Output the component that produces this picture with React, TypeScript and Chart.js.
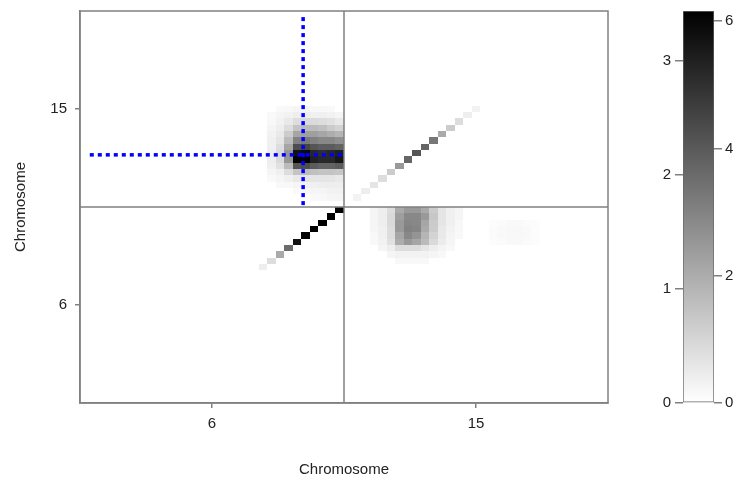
import React, { useEffect, useRef } from 'react';
import { Chart, registerables } from 'chart.js';
Chart.register(...registerables);

// ---------------- data ----------------
const chromosomes = ['6', '15'];
const binsPerChromosome = 31;
const axisTitle = 'Chromosome';

const colorbarLeftTicks = [0, 1, 2, 3];
const colorbarRightTicks = [0, 2, 4, 6];
const colorbarLeftMax = 3.44;
const colorbarRightMax = 6.16;

// chr6 x chr6 diagonal, bins 21..30
const chr6DiagonalStartBin = 21;
const chr6DiagonalValues = [0.23, 0.46, 1.15, 2.0, 3.2, 3.44, 3.44, 3.44, 3.44, 3.44];

// chr15 x chr15 diagonal, bins 1..15
const chr15DiagonalStartBin = 1;
const chr15DiagonalValues = [0.17, 0.23, 0.35, 0.46, 0.69, 1.38, 2.06, 2.29, 2.06, 1.83, 1.15, 0.69, 0.46, 0.23, 0.17];

// x = chr6 bins 22..30, y = chr15 bins 15 (top row) down to 1
const chr6Chr15XStartBin = 22;
const chr6Chr15YTopBin = 15;
const chr6Chr15Values = [
  [0, 0.08, 0.1, 0.13, 0.13, 0.1, 0.1, 0.08, 0],
  [0.08, 0.13, 0.17, 0.23, 0.23, 0.2, 0.2, 0.17, 0.13],
  [0.1, 0.17, 0.3, 0.46, 0.5, 0.5, 0.46, 0.4, 0.3],
  [0.13, 0.23, 0.46, 0.8, 0.92, 0.92, 0.85, 0.7, 0.6],
  [0.17, 0.3, 0.69, 1.2, 1.3, 1.3, 1.2, 1.1, 1.0],
  [0.2, 0.35, 0.92, 1.7, 1.8, 1.7, 1.6, 1.6, 1.5],
  [0.2, 0.46, 1.2, 2.4, 2.5, 2.3, 2.2, 2.2, 2.1],
  [0.23, 0.5, 1.4, 3.2, 3.3, 2.9, 2.8, 2.9, 3.0],
  [0.23, 0.5, 1.4, 3.4, 3.44, 3.0, 2.9, 2.9, 3.1],
  [0.2, 0.4, 0.9, 2.3, 2.4, 2.2, 2.1, 2.1, 2.2],
  [0.13, 0.2, 0.46, 0.8, 0.9, 0.85, 0.8, 0.8, 0.75],
  [0.08, 0.13, 0.2, 0.3, 0.35, 0.35, 0.35, 0.35, 0.3],
  [0, 0.08, 0.1, 0.13, 0.17, 0.2, 0.23, 0.23, 0.23],
  [0, 0, 0, 0.08, 0.1, 0.13, 0.13, 0.17, 0.17],
  [0, 0, 0, 0, 0, 0.08, 0.1, 0.13, 0.13],
];

// x = chr15 bins 3..13, y = chr6 bins 30 (top row) down to 22
const chr15Chr6XStartBin = 3;
const chr15Chr6YTopBin = 30;
const chr15Chr6Values = [
  [0.13, 0.23, 0.46, 1.15, 1.38, 1.38, 1.15, 0.69, 0.35, 0.2, 0.13],
  [0.13, 0.23, 0.5, 1.3, 1.6, 1.6, 1.38, 0.75, 0.35, 0.2, 0.13],
  [0.13, 0.23, 0.5, 1.38, 1.65, 1.6, 1.2, 0.7, 0.35, 0.2, 0.1],
  [0.13, 0.2, 0.46, 1.38, 1.7, 1.65, 1.15, 0.69, 0.3, 0.17, 0.1],
  [0.1, 0.2, 0.46, 1.2, 1.6, 1.45, 1.0, 0.6, 0.3, 0.15, 0.1],
  [0.1, 0.17, 0.4, 1.1, 1.38, 1.2, 0.92, 0.5, 0.25, 0.13, 0],
  [0, 0.13, 0.23, 0.46, 0.46, 0.46, 0.35, 0.23, 0.15, 0.1, 0],
  [0, 0, 0.13, 0.17, 0.17, 0.17, 0.17, 0.13, 0.1, 0, 0],
  [0, 0, 0, 0.1, 0.1, 0.1, 0.1, 0, 0, 0, 0],
];

// faint patch: x = chr15 bins 17..22, y = chr6 bins 28 down to 25
const chr15Chr6FaintXStartBin = 17;
const chr15Chr6FaintYTopBin = 28;
const chr15Chr6FaintValues = [
  [0.04, 0.06, 0.08, 0.08, 0.06, 0.04],
  [0.06, 0.08, 0.1, 0.1, 0.08, 0.04],
  [0.06, 0.08, 0.1, 0.1, 0.08, 0.04],
  [0.04, 0.06, 0.08, 0.08, 0.06, 0.04],
];

// crosshair (global bin coordinates)
const crosshairVertical = [
  { x: 26.2, y: 31.3 },
  { x: 26.2, y: 61.1 },
];
const crosshairHorizontal = [
  { x: 1.15, y: 39.25 },
  { x: 30.9, y: 39.25 },
];

// ---------------- helpers ----------------
type Cell = { x: number; y: number; v: number };

function buildCells(): Cell[] {
  const cells: Cell[] = [];
  const off6 = 0;
  const off15 = binsPerChromosome;
  chr6DiagonalValues.forEach((v, i) => {
    const b = off6 + chr6DiagonalStartBin + i;
    cells.push({ x: b, y: b, v });
  });
  chr15DiagonalValues.forEach((v, i) => {
    const b = off15 + chr15DiagonalStartBin + i;
    cells.push({ x: b, y: b, v });
  });
  const addBlock = (vals: number[][], xOff: number, xStart: number, yOff: number, yTop: number) => {
    vals.forEach((row, r) => {
      row.forEach((v, c) => {
        if (v > 0) cells.push({ x: xOff + xStart + c, y: yOff + yTop - r, v });
      });
    });
  };
  addBlock(chr6Chr15Values, off6, chr6Chr15XStartBin, off15, chr6Chr15YTopBin);
  addBlock(chr15Chr6Values, off15, chr15Chr6XStartBin, off6, chr15Chr6YTopBin);
  addBlock(chr15Chr6FaintValues, off15, chr15Chr6FaintXStartBin, off6, chr15Chr6FaintYTopBin);
  return cells;
}

function grayFor(v: number): string {
  const t = Math.max(0, Math.min(1, v / colorbarLeftMax));
  const g = Math.round(255 * (1 - t));
  return `rgb(${g},${g},${g})`;
}

const FONT = { family: '"Liberation Sans", Arial, sans-serif', size: 15 };
const TEXT = '#222';
const LINE = '#808080';

const heatmapPlugin = {
  id: 'heatmapCells',
  beforeDatasetsDraw(chart: any) {
    const { ctx, chartArea, scales } = chart;
    const xs = scales.x;
    const ys = scales.y;
    ctx.save();
    for (const c of buildCells()) {
      const x0 = Math.round(xs.getPixelForValue(c.x));
      const x1 = Math.round(xs.getPixelForValue(c.x + 1));
      const y0 = Math.round(ys.getPixelForValue(c.y + 1));
      const y1 = Math.round(ys.getPixelForValue(c.y));
      ctx.fillStyle = grayFor(c.v);
      ctx.fillRect(x0, y0, x1 - x0, y1 - y0);
    }
    ctx.strokeStyle = LINE;
    ctx.lineWidth = 1.5;
    const xd = xs.getPixelForValue(binsPerChromosome);
    const yd = ys.getPixelForValue(binsPerChromosome);
    ctx.beginPath();
    ctx.moveTo(xd, chartArea.top);
    ctx.lineTo(xd, chartArea.bottom);
    ctx.moveTo(chartArea.left, yd);
    ctx.lineTo(chartArea.right, yd);
    ctx.stroke();
    ctx.strokeRect(chartArea.left, chartArea.top, chartArea.right - chartArea.left, chartArea.bottom - chartArea.top);
    ctx.restore();
  },
};

const total = binsPerChromosome * chromosomes.length;
const chromTicks = () => chromosomes.map((_, i) => ({ value: i * binsPerChromosome + binsPerChromosome / 2 }));
const chromLabel = (v: any) => chromosomes[Math.floor(Number(v) / binsPerChromosome)] ?? '';

const fitVertical = (width: number) => (s: any) => {
  s.width = width;
  s.paddingTop = 0;
  s.paddingBottom = 0;
};

export default function App() {
  const mainRef = useRef<HTMLCanvasElement>(null);
  const barRef = useRef<HTMLCanvasElement>(null);

  useEffect(() => {
    const lineDs = (data: any) => ({
      data,
      showLine: true,
      borderColor: '#0000ff',
      borderWidth: 3.5,
      borderDash: [4, 4],
      borderCapStyle: 'butt',
      pointRadius: 0,
      fill: false,
    });
    const main = new Chart(mainRef.current!, {
      type: 'scatter',
      data: { datasets: [lineDs(crosshairVertical), lineDs(crosshairHorizontal)] as any },
      options: {
        animation: false,
        responsive: false,
        maintainAspectRatio: false,
        layout: { padding: { top: 11, right: 32, left: 0, bottom: 0 } },
        plugins: { legend: { display: false }, tooltip: { enabled: false } },
        scales: {
          x: {
            type: 'linear',
            min: 0,
            max: total,
            afterBuildTicks: (s: any) => { s.ticks = chromTicks(); },
            afterFit: (s: any) => { s.height = 76; s.paddingLeft = 0; s.paddingRight = 0; },
            ticks: { callback: chromLabel, font: FONT, color: TEXT, padding: 7, maxRotation: 0, autoSkip: false },
            grid: { drawOnChartArea: false, drawTicks: true, tickLength: 5, color: LINE, lineWidth: 1.5 },
            border: { display: true, color: LINE, width: 1.5 },
            title: { display: true, text: axisTitle, font: FONT, color: TEXT, padding: { top: 0, bottom: 0 } },
          },
          y: {
            type: 'linear',
            min: 0,
            max: total,
            afterBuildTicks: (s: any) => { s.ticks = chromTicks(); },
            afterFit: fitVertical(80),
            ticks: { callback: chromLabel, font: FONT, color: TEXT, padding: 8, autoSkip: false },
            grid: { drawOnChartArea: false, drawTicks: true, tickLength: 5, color: LINE, lineWidth: 1.5 },
            border: { display: true, color: LINE, width: 1.5 },
            title: { display: true, text: axisTitle, font: FONT, color: TEXT, padding: { top: 12, bottom: 0 } },
          },
        },
      } as any,
      plugins: [heatmapPlugin],
    });

    const bar = new Chart(barRef.current!, {
      type: 'bar',
      data: {
        labels: [''],
        datasets: [
          {
            data: [colorbarLeftMax],
            yAxisID: 'y',
            barPercentage: 1,
            categoryPercentage: 1,
            borderColor: '#666',
            borderWidth: 1,
            borderSkipped: false,
            backgroundColor: (c: any) => {
              const area = c.chart.chartArea;
              if (!area) return '#888';
              const g = c.chart.ctx.createLinearGradient(0, area.bottom, 0, area.top);
              g.addColorStop(0, '#ffffff');
              g.addColorStop(1, '#000000');
              return g;
            },
          },
        ],
      },
      options: {
        animation: false,
        responsive: false,
        maintainAspectRatio: false,
        layout: { padding: { top: 11, bottom: 76, left: 0, right: 0 } },
        plugins: { legend: { display: false }, tooltip: { enabled: false } },
        scales: {
          x: { display: false },
          y: {
            position: 'left',
            min: 0,
            max: colorbarLeftMax,
            afterBuildTicks: (s: any) => { s.ticks = colorbarLeftTicks.map((v) => ({ value: v })); },
            afterFit: fitVertical(43),
            ticks: { font: FONT, color: TEXT, padding: 4 },
            grid: { drawOnChartArea: false, drawTicks: true, tickLength: 8, color: LINE, lineWidth: 1.5 },
            border: { display: false },
          },
          y2: {
            position: 'right',
            min: 0,
            max: colorbarRightMax,
            afterBuildTicks: (s: any) => { s.ticks = colorbarRightTicks.map((v) => ({ value: v })); },
            afterFit: fitVertical(23),
            ticks: { font: FONT, color: TEXT, padding: 3 },
            grid: { drawOnChartArea: false, drawTicks: true, tickLength: 8, color: LINE, lineWidth: 1.5 },
            border: { display: false },
          },
        },
      } as any,
    });

    return () => {
      main.destroy();
      bar.destroy();
    };
  }, []);

  return (
    <div style={{ position: 'absolute', left: 0, top: 0, width: 737, height: 479, background: '#fff' }}>
      <canvas ref={mainRef} width={640} height={479} style={{ position: 'absolute', left: 0, top: 0, width: 640, height: 479 }} />
      <canvas ref={barRef} width={97} height={479} style={{ position: 'absolute', left: 640, top: 0, width: 97, height: 479 }} />
    </div>
  );
}
